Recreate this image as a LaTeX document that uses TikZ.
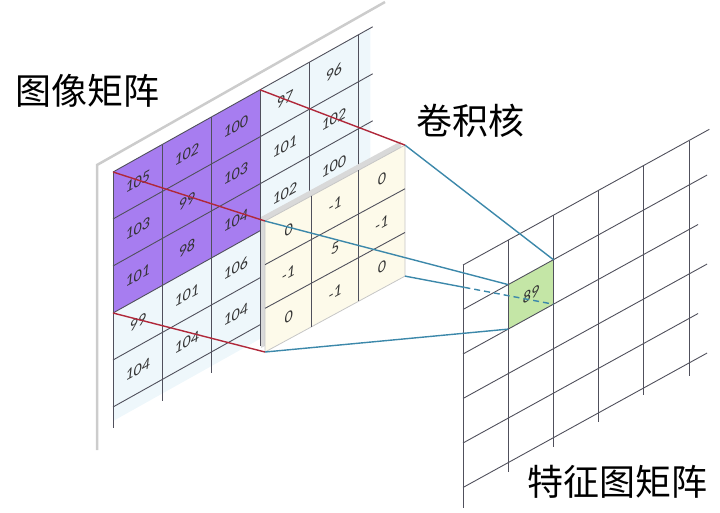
\documentclass[tikz,border=0pt]{standalone}
\usepackage{fontspec}
\newfontfamily\cjkfont{Noto Sans CJK SC}
\newfontfamily\numfont{Carlito}
\definecolor{purplecell}{RGB}{167,125,240}
\definecolor{lightcell}{RGB}{238,247,251}
\definecolor{creamcell}{RGB}{253,250,234}
\definecolor{greencell}{RGB}{196,230,166}
\definecolor{linkred}{RGB}{176,40,58}
\definecolor{linkblue}{RGB}{60,136,170}
\definecolor{gridgray}{RGB}{80,80,92}
\tikzstyle{gridline}=[draw=gridgray,line width=0.9pt]
\tikzstyle{sheet}=[draw=gray!40,line width=2.5pt]
\tikzstyle{num}=[font=\numfont\itshape\fontsize{16}{18}\selectfont,yslant=0.56,text=black!80,inner sep=0pt]
\tikzstyle{title}=[font=\cjkfont\fontsize{36}{40}\selectfont,inner sep=0pt]
\tikzstyle{redline}=[draw=linkred,line width=1.4pt]
\tikzstyle{blueline}=[draw=linkblue,line width=1.4pt]
\usetikzlibrary{calc}

\begin{document}
\begin{tikzpicture}[x=1pt,y=-1pt]
\useasboundingbox (0,0) rectangle (720,512);
% sheet of the image matrix
\path[sheet] (385,2) -- (97,165) -- (97,450);

% image matrix
\begin{scope}[shift={(113,172)},x={(49pt,27.4pt)},y={(0pt,-47pt)}]
\fill[lightcell] (0,0) -- (5.25,0) -- (5.25,5.3) -- (0,5.3) -- cycle;
\fill[purplecell] (0,0) -- (3,0) -- (3,3) -- (0,3) -- cycle;
\foreach \i in {0,...,5} \path[gridline] (\i,0) -- (\i,5.45);
\foreach \j in {0,...,5} \path[gridline] (0,\j) -- (5.3,\j);
\coordinate (p1) at (0,0);
\coordinate (p2) at (3,0);
\coordinate (p3) at (0,3);
\node[num] (a1) at (0.5,0.5) {105};
\node[num] (a2) at (1.5,0.5) {102};
\node[num] (a3) at (2.5,0.5) {100};
\node[num] (a4) at (3.5,0.5) {97};
\node[num] (a5) at (4.5,0.5) {96};
\node[num] (b1) at (0.5,1.5) {103};
\node[num] (b2) at (1.5,1.5) {99};
\node[num] (b3) at (2.5,1.5) {103};
\node[num] (b4) at (3.5,1.5) {101};
\node[num] (b5) at (4.5,1.5) {102};
\node[num] (c1) at (0.5,2.5) {101};
\node[num] (c2) at (1.5,2.5) {98};
\node[num] (c3) at (2.5,2.5) {104};
\node[num] (c4) at (3.5,2.5) {102};
\node[num] (c5) at (4.5,2.5) {100};
\node[num] (d1) at (0.5,3.5) {99};
\node[num] (d2) at (1.5,3.5) {101};
\node[num] (d3) at (2.5,3.5) {106};
\node[num] (e1) at (0.5,4.5) {104};
\node[num] (e2) at (1.5,4.5) {104};
\node[num] (e3) at (2.5,4.5) {104};
\end{scope}

% kernel
\begin{scope}[shift={(265,221)},x={(46.67pt,25.3pt)},y={(0pt,-43.67pt)}]
\fill[gray!30,shift={(-4pt,4pt)}] (0,0) -- (3,0) -- (3,3) -- (0,3) -- cycle;
\fill[creamcell] (0,0) -- (3,0) -- (3,3) -- (0,3) -- cycle;
\draw[gray!45,line width=0.8pt] (0,0) -- (3,0) -- (3,3) -- (0,3) -- cycle;
\foreach \i in {1,2} \path[gridline] (\i,0) -- (\i,3);
\foreach \j in {1,2} \path[gridline] (0,\j) -- (3,\j);
\coordinate (k1) at (0,0);
\coordinate (k2) at (3,0);
\coordinate (k3) at (0,3);
\coordinate (k4) at (3,3);
\node[num] (m1) at (0.5,0.5) {0};
\node[num] (m2) at (1.5,0.5) {-1};
\node[num] (m3) at (2.5,0.5) {0};
\node[num] (m4) at (0.5,1.5) {-1};
\node[num] (m5) at (1.5,1.5) {5};
\node[num] (m6) at (2.5,1.5) {-1};
\node[num] (m7) at (0.5,2.5) {0};
\node[num] (m8) at (1.5,2.5) {-1};
\node[num] (m9) at (2.5,2.5) {0};
\end{scope}

% feature map
\begin{scope}[shift={(463,265)},x={(45.2pt,24.9pt)},y={(0pt,-44.5pt)}]
\fill[greencell] (1,1) -- (2,1) -- (2,2) -- (1,2) -- cycle;
\foreach \i/\e in {0/5.45,1/5.2,2/5.22,3/5.2,4/5.15,5/5.3} \path[gridline] (\i,0) -- (\i,\e);
\foreach \j/\e in {0/5.45,1/5.4,2/5.2,3/5.4,4/5.2,5/5.4} \path[gridline] (0,\j) -- (\e,\j);
\coordinate (g1) at (1,1);
\coordinate (g2) at (2,1);
\coordinate (g3) at (1,2);
\coordinate (g4) at (2,2);
\node[num] (f1) at (1.5,1.5) {89};
\end{scope}

% projection lines
\path[redline] (p1) -- (k1);
\path[redline] (p2) -- (k2);
\path[redline] (p3) -- (k3);
\path[blueline] (k2) -- (g2);
\path[blueline] (k1) -- (g1);
\path[blueline] (k3) -- (g3);
\coordinate (kx) at ($(k4)!0.4!(g4)$);
\path[blueline] (k4) -- (kx);
\path[blueline,dash pattern=on 6pt off 4pt] (kx) -- (g4);

\node[title] (t1) at (87,91) {图像矩阵};
\node[title] (t2) at (470,121) {卷积核};
\node[title] (t3) at (617,482) {特征图矩阵};
\end{tikzpicture}
\end{document}
